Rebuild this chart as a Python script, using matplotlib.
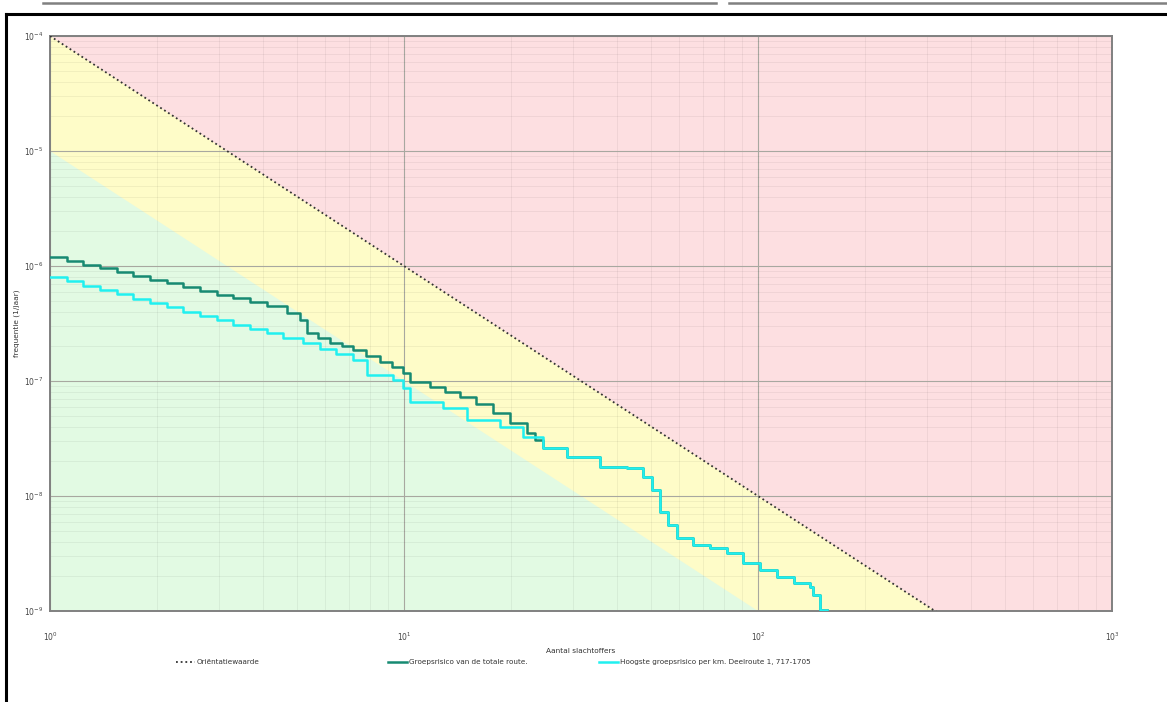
import numpy as np
import matplotlib
matplotlib.use("Agg")
import matplotlib.pyplot as plt
from matplotlib.lines import Line2D

# FN-curve data (N = aantal slachtoffers, F = frequentie per jaar)
n_totaal = [1.0, 1.117, 1.239, 1.384, 1.546, 1.716, 1.917, 2.141, 2.375, 2.653, 2.964,
            3.288, 3.673, 4.102, 4.672, 5.08, 5.32, 5.71, 6.18, 6.68, 7.18, 7.81, 8.55,
            9.25, 9.94, 10.4, 11.84, 13.06, 14.4, 15.97, 17.8, 19.93, 22.2, 23.4]
f_totaal = [1.197e-6, 1.105e-6, 1.020e-6, 9.61e-7, 8.87e-7, 8.18e-7, 7.55e-7, 7.12e-7,
            6.57e-7, 6.06e-7, 5.59e-7, 5.27e-7, 4.86e-7, 4.49e-7, 3.90e-7, 3.39e-7,
            2.61e-7, 2.37e-7, 2.14e-7, 2.01e-7, 1.86e-7, 1.65e-7, 1.46e-7, 1.32e-7,
            1.17e-7, 9.8e-8, 8.87e-8, 8.02e-8, 7.26e-8, 6.31e-8, 5.27e-8, 4.31e-8,
            3.53e-8, 3.07e-8]

n_km = [1.0, 1.117, 1.239, 1.384, 1.546, 1.716, 1.917, 2.141, 2.375, 2.653, 2.964,
        3.288, 3.673, 4.102, 4.55, 5.18, 5.79, 6.43, 7.18, 7.86, 9.31, 9.94, 10.4,
        12.9, 15.1, 18.7, 21.7, 24.7, 28.9, 35.8, 42.7, 47.3, 50.2, 52.9, 55.7, 59.0,
        65.5, 73.2, 81.7, 90.7, 101, 113, 126, 140, 143, 150, 157]
f_km = [8.02e-7, 7.41e-7, 6.70e-7, 6.18e-7, 5.71e-7, 5.16e-7, 4.77e-7, 4.40e-7,
        3.98e-7, 3.67e-7, 3.39e-7, 3.07e-7, 2.83e-7, 2.61e-7, 2.37e-7, 2.14e-7,
        1.90e-7, 1.72e-7, 1.52e-7, 1.13e-7, 1.02e-7, 8.7e-8, 6.57e-8, 5.82e-8,
        4.58e-8, 3.98e-8, 3.26e-8, 2.61e-8, 2.18e-8, 1.79e-8, 1.75e-8, 1.46e-8,
        1.13e-8, 7.26e-9, 5.6e-9, 4.31e-9, 3.75e-9, 3.53e-9, 3.19e-9, 2.61e-9,
        2.27e-9, 1.98e-9, 1.75e-9, 1.62e-9, 1.38e-9, 1.02e-9, 1.02e-9]

# total route runs under the per-km curve from N ~ 24.7 on
n_totaal = n_totaal + n_km[27:]
f_totaal = f_totaal + f_km[27:]

orientatie_c = 1e-4  # F = c / N^2
groen_c = 1e-5

x_ticks = [1, 10, 100, 1000]
x_labels = [r"$10^0$", r"$10^1$", r"$10^2$", r"$10^3$"]
y_ticks = [1e-9, 1e-8, 1e-7, 1e-6, 1e-5, 1e-4]
y_labels = [r"$10^{-9}$", r"$10^{-8}$", r"$10^{-7}$", r"$10^{-6}$", r"$10^{-5}$", r"$10^{-4}$"]

fig = plt.figure(figsize=(11.67, 7.02), dpi=100)
W, H = 1167, 702
ax = fig.add_axes([50 / W, 1 - 611 / H, (1112 - 50) / W, (611 - 36) / H])
ax.set_xscale("log")
ax.set_yscale("log")
ax.set_xlim(1, 1000)
ax.set_ylim(1e-9, 1e-4)

# coloured zones
nn = np.logspace(0, 3, 400)
ax.fill_between(nn, 1e-12, 1e-2, color="#fddfe1", lw=0, zorder=0)
ax.fill_between(nn, 1e-12, orientatie_c / nn**2, color="#fefcc8", lw=0, zorder=0)
ax.fill_between(nn, 1e-12, groen_c / nn**2, color="#e2fae3", lw=0, zorder=0)

ax.grid(True, which="major", color="#a8a8a0", lw=0.8, zorder=1)
ax.grid(True, which="minor", color="#000000", alpha=0.05, lw=0.7, zorder=1)

ax.plot(nn, orientatie_c / nn**2, color="#333333", lw=1.3, ls=(0, (1, 1.6)), zorder=3,
        label="Oriëntatiewaarde")
ax.plot(n_totaal, f_totaal, drawstyle="steps-post", color="#178a72", lw=1.8, zorder=4,
        label="Groepsrisico van de totale route.")
ax.plot(n_km, f_km, drawstyle="steps-post", color="#20f0f0", lw=1.8, zorder=5,
        label="Hoogste groepsrisico per km. Deelroute 1, 717-1705")

ax.set_xticks(x_ticks)
ax.set_xticklabels(x_labels)
ax.set_yticks(y_ticks)
ax.set_yticklabels(y_labels)
ax.tick_params(which="both", length=0, labelsize=5.5, colors="#444444")
ax.tick_params(axis="x", pad=14)
ax.tick_params(axis="y", pad=5)
for s in ax.spines.values():
    s.set_color("#808080")
    s.set_linewidth(1.4)

ax.set_xlabel("Aantal slachtoffers", fontsize=5.3, color="#333333", labelpad=4)
ax.set_ylabel("frequentie (1/jaar)", fontsize=5.3, color="#333333", labelpad=3)

# legend entries placed one by one, as in the reference
handles, labels = ax.get_legend_handles_labels()
for h, l, x0 in zip(handles, labels, [176, 388, 599]):
    fig.legend([h], [l], loc="center left", bbox_to_anchor=(x0 / W, 1 - 662 / H),
               frameon=False, fontsize=5.2, handlelength=2.6, handletextpad=0.3,
               borderpad=0, borderaxespad=0, labelcolor="#333333")

# page frame and header rules of the scanned document
fig.add_artist(Line2D([6 / W, 6 / W], [0, 1 - 14 / H], color="black", lw=2.2))
fig.add_artist(Line2D([6 / W, 1], [1 - 14 / H, 1 - 14 / H], color="black", lw=2.2))
fig.add_artist(Line2D([43 / W, 716 / W], [1 - 3 / H, 1 - 3 / H], color="#808080", lw=1.8))
fig.add_artist(Line2D([729 / W, 1], [1 - 3 / H, 1 - 3 / H], color="#808080", lw=1.8))

fig.savefig("out.png", dpi=100)
